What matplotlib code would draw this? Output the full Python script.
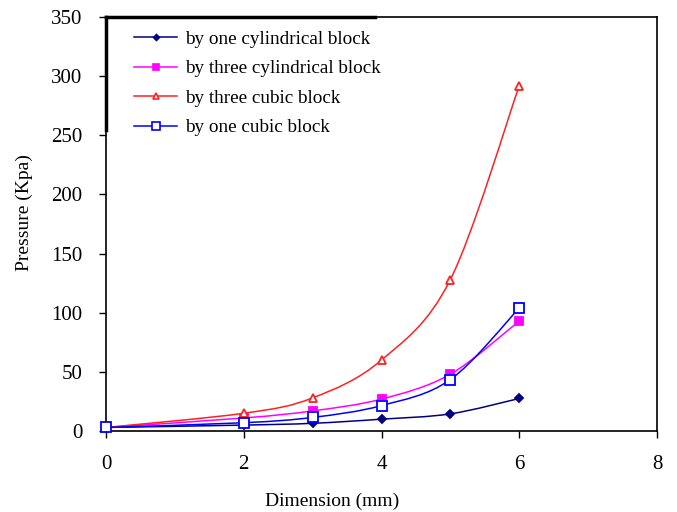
import matplotlib
matplotlib.use("Agg")
import matplotlib.pyplot as plt
from matplotlib.path import Path
from matplotlib.patches import PathPatch
from matplotlib.lines import Line2D
import numpy as np

plt.rcParams['font.family'] = ['Liberation Serif', 'DejaVu Serif']

x = [0, 2, 3, 4, 5, 6]
one_cyl = [3, 5, 6.5, 10, 14.5, 27.5]
three_cyl = [3, 11, 17, 27, 48, 93]
three_cubic = [3, 15, 28, 60, 128, 292]
one_cubic = [3, 7, 11.5, 21.5, 43.5, 104]

labels = ["by one cylindrical block", "by three cylindrical block",
          "by three cubic block", "by one cubic block"]
series = [one_cyl, three_cyl, three_cubic, one_cubic]
colors = ["#000080", "#FF00FF", "#FF2020", "#0000FF"]
markers = ["D", "s", "^", "s"]
mfaces = ["#000080", "#FF00FF", "white", "white"]
msizes = [4, 6, 6, 6.5]

fig = plt.figure(figsize=(6.77, 5.12), dpi=100)
ax = fig.add_axes([0.1566, 0.1582, 0.8139, 0.8086])


def smooth_path(xs, ys):
    pts = np.column_stack([xs, ys]).astype(float)
    n = len(pts)
    verts = [pts[0]]
    codes = [Path.MOVETO]
    for i in range(n - 1):
        p0 = pts[i - 1] if i > 0 else pts[i]
        p1 = pts[i]
        p2 = pts[i + 1]
        p3 = pts[i + 2] if i + 2 < n else pts[i + 1]
        c1 = p1 + (p2 - p0) / 6.0
        c2 = p2 - (p3 - p1) / 6.0
        verts += [c1, c2, p2]
        codes += [Path.CURVE4] * 3
    return Path(verts, codes)


handles = []
for ys, c, m, mf, ms, lab in zip(series, colors, markers, mfaces, msizes, labels):
    ax.add_patch(PathPatch(smooth_path(x, ys), facecolor='none', edgecolor=c, lw=1.1, zorder=2))
    ax.plot(x, ys, linestyle='none', marker=m, color=c, markerfacecolor=mf,
            markeredgecolor=c, markersize=ms, markeredgewidth=1.3, zorder=3, clip_on=False)
    handles.append(Line2D([], [], color=c, lw=1.1, marker=m, markerfacecolor=mf,
                          markeredgecolor=c, markersize=ms - 1, markeredgewidth=1.2))

ax.set_xlim(0, 8)
ax.set_ylim(0, 350)
ax.set_xticks([0, 2, 4, 6, 8])
ax.set_yticks(range(0, 351, 50))
ax.tick_params(direction='out', length=5, width=1, labelsize=15)
ax.tick_params(axis='y', pad=12)
ax.tick_params(axis='x', pad=12)
for s in ax.spines.values():
    s.set_linewidth(1.2)

ax.set_xlabel("Dimension (mm)", fontsize=14)
ax.set_ylabel("Pressure (Kpa)", fontsize=14)
ax.xaxis.set_label_coords(0.41, -0.148)
ax.yaxis.set_label_coords(-0.132, 0.527)

leg = ax.legend(handles, labels, loc='upper left', bbox_to_anchor=(0.0375, 0.986),
                frameon=False, fontsize=13.8, handlelength=2.25, handletextpad=0.37,
                labelspacing=0.63, borderaxespad=0.0)

# legend box border (top and left edges, thicker)
ax.plot([0, 0.488], [1, 1], transform=ax.transAxes, color='black', lw=2.5, clip_on=False, zorder=5)
ax.plot([0, 0], [0.727, 1], transform=ax.transAxes, color='black', lw=2.5, clip_on=False, zorder=5)

fig.savefig("out.png", dpi=100)
